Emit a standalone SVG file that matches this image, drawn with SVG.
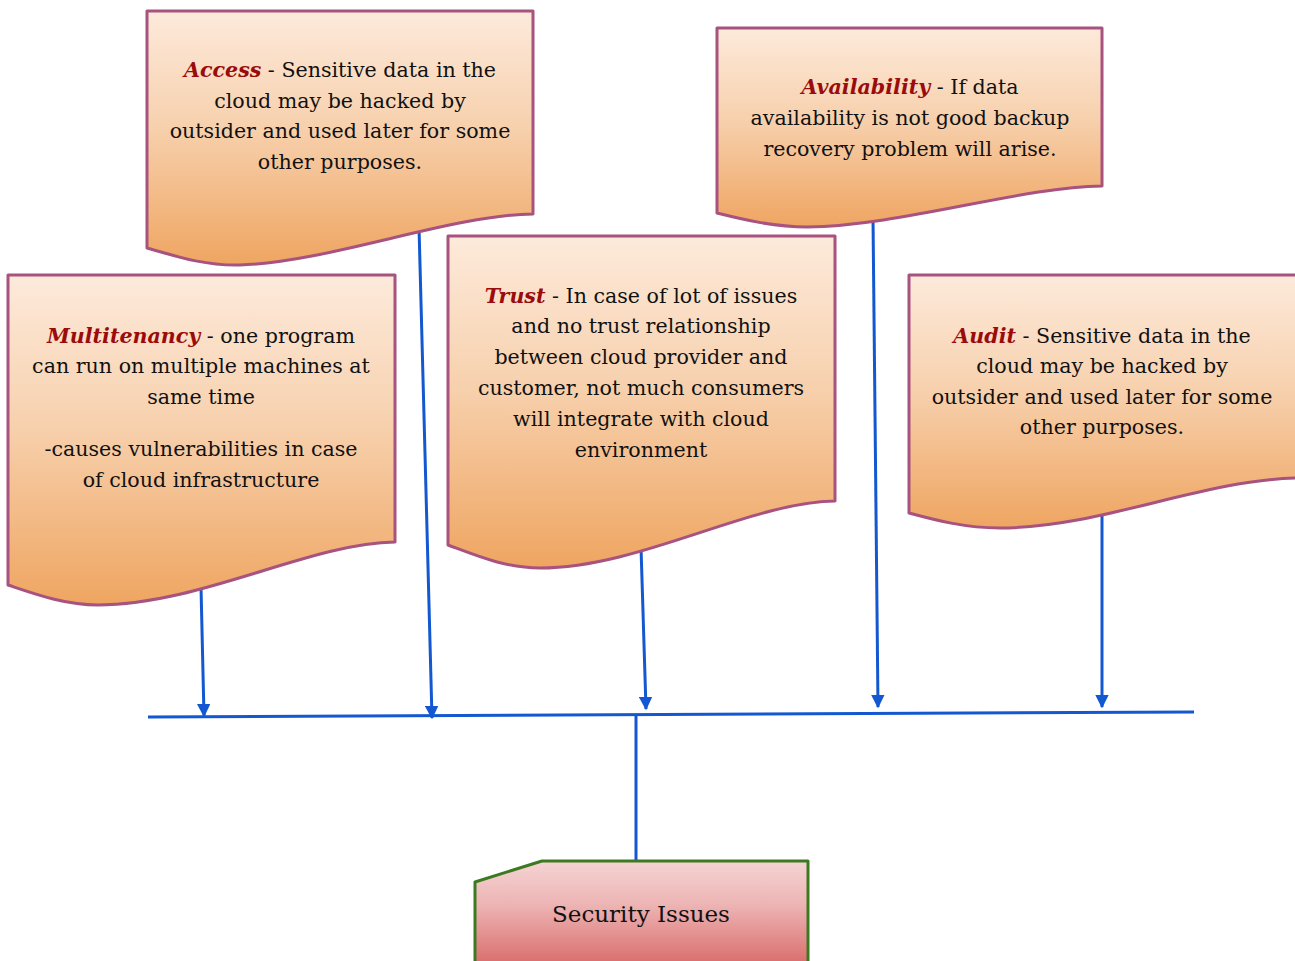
<svg xmlns="http://www.w3.org/2000/svg" width="1295" height="961" viewBox="0 0 1295 961">
  <style>
    .doc { stroke: #a8527f; stroke-width: 3; fill: url(#orange); stroke-linejoin: round; }
    .txt { font-family: 'DejaVu Serif', serif; font-size: 20.6px; fill: #111; text-anchor: middle; }
    .key { font-weight: bold; font-style: italic; fill: #9a0b0b; }
    .wire { stroke: #1358d0; stroke-width: 3; fill: none; }
    .arrow { stroke: #1358d0; stroke-width: 3; fill: none; marker-end: url(#head); }
  </style>
  <defs>
    <linearGradient id="orange" x1="0" y1="0" x2="0" y2="1">
      <stop offset="0" stop-color="#fdeadb"/>
      <stop offset="0.45" stop-color="#f7d1ae"/>
      <stop offset="1" stop-color="#efa561"/>
    </linearGradient>
    <linearGradient id="rose" x1="0" y1="0" x2="0" y2="1">
      <stop offset="0" stop-color="#f5d3d3"/>
      <stop offset="0.4" stop-color="#edb4b4"/>
      <stop offset="1" stop-color="#d96666"/>
    </linearGradient>
    <marker id="head" viewBox="0 0 10 10" refX="9" refY="5" markerWidth="4.5" markerHeight="4.5" orient="auto" markerUnits="strokeWidth">
      <path d="M0,0 L10,5 L0,10 Z" fill="#1358d0"/>
    </marker>
  </defs>

  <!-- connectors -->
  <g id="connectors">
    <path class="wire" d="M148,717 L1194,712"/>
    <path class="wire" d="M636,715 L636,861"/>
    <path class="arrow" d="M201,587 L204,716"/>
    <path class="arrow" d="M419,227 L432,718"/>
    <path class="arrow" d="M641,547 L646,709"/>
    <path class="arrow" d="M873,217 L878,707"/>
    <path class="arrow" d="M1102,515 L1102,707"/>
  </g>

  <!-- Access -->
  <g id="access">
    <path class="doc" d="M147,11 H533 V214 C450,215 330,262 240,265 C205,266 175,256 147,248 Z"/>
    <text class="txt" x="340" y="77"><tspan class="key">Access</tspan> - Sensitive data in the</text>
    <text class="txt" x="340" y="108">cloud may be hacked by</text>
    <text class="txt" x="340" y="138">outsider and used later for some</text>
    <text class="txt" x="340" y="169">other purposes.</text>
  </g>

  <!-- Availability -->
  <g id="availability">
    <path class="doc" d="M717,28 H1102 V186 C1020,187 900,226 807,227 C775,227 745,220 717,213 Z"/>
    <text class="txt" x="910" y="94"><tspan class="key">Availability</tspan> - If data</text>
    <text class="txt" x="910" y="125">availability is not good backup</text>
    <text class="txt" x="910" y="156">recovery problem will arise.</text>
  </g>

  <!-- Multitenancy -->
  <g id="multitenancy">
    <path class="doc" d="M8,275 H395 V542 C310,543 200,605 98,605 C65,605 35,594 8,585 Z"/>
    <text class="txt" x="201" y="343"><tspan class="key">Multitenancy</tspan> - one program</text>
    <text class="txt" x="201" y="373">can run on multiple machines at</text>
    <text class="txt" x="201" y="404">same time</text>
    <text class="txt" x="201" y="456">-causes vulnerabilities in case</text>
    <text class="txt" x="201" y="487">of cloud infrastructure</text>
  </g>

  <!-- Trust -->
  <g id="trust">
    <path class="doc" d="M448,236 H835 V501 C750,502 640,568 540,568 C505,568 475,555 448,545 Z"/>
    <text class="txt" x="641" y="303"><tspan class="key">Trust</tspan> - In case of lot of issues</text>
    <text class="txt" x="641" y="333">and no trust relationship</text>
    <text class="txt" x="641" y="364">between cloud provider and</text>
    <text class="txt" x="641" y="395">customer, not much consumers</text>
    <text class="txt" x="641" y="426">will integrate with cloud</text>
    <text class="txt" x="641" y="457">environment</text>
  </g>

  <!-- Audit -->
  <g id="audit">
    <path class="doc" d="M909,275 H1297 V478 C1200,480 1100,528 1000,528 C965,528 935,520 909,513 Z"/>
    <text class="txt" x="1102" y="343"><tspan class="key">Audit</tspan> - Sensitive data in the</text>
    <text class="txt" x="1102" y="373">cloud may be hacked by</text>
    <text class="txt" x="1102" y="404">outsider and used later for some</text>
    <text class="txt" x="1102" y="434">other purposes.</text>
  </g>

  <!-- Security Issues -->
  <g id="security-issues">
    <path d="M475,970 V882 L542,861 H808 V970" fill="url(#rose)" stroke="#3c7a22" stroke-width="3" stroke-linejoin="round"/>
    <text class="txt" x="641" y="922" style="font-size:23px">Security Issues</text>
  </g>
</svg>
